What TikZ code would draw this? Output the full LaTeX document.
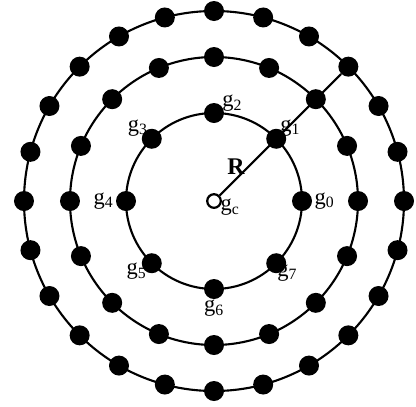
\documentclass[tikz,border=0pt]{standalone}
\usepackage{fontspec}
\setmainfont{Liberation Serif}
\usetikzlibrary{positioning, calc}
\tikzset{
	blackdot/.style={circle, fill=black, inner sep=0pt, minimum size=0.5cm}
}
\tikzset{
	ringline/.style={line width=1.5pt}
}
\tikzset{
	glabel/.style={font=\fontsize{16}{18}\selectfont, inner sep=0.5pt}
}
\newcommand{\gsub}[1]{g\textsubscript{#1}}

\begin{document}
\begin{tikzpicture}
      \useasboundingbox (-5.35,-5.125) rectangle (5.05,5.025);
      \draw[ringline] (0,0) circle (2.2);
      \draw[ringline] (0,0) circle (3.6);
      \draw[ringline] (0,0) circle (4.75);
      % grid points on the three rings
      \foreach \k in {0,...,7} \node[blackdot] (g\k) at (\k*45:2.2) {};
      \foreach \k in {0,...,15} \node[blackdot] (m\k) at (\k*22.5:3.6) {};
      \foreach \k in {0,...,23} \node[blackdot] (o\k) at (\k*15:4.75) {};
      \node[circle, draw, line width=1.6pt, fill=white, inner sep=0pt, minimum size=0.34cm] (gc) at (0,0) {};
      \draw[ringline] (gc) -- (o3);
      \node[font=\fontsize{17}{19}\selectfont\bfseries] (lblR) at (0.55,0.85) {R};
      \node[glabel, right=1pt of g0] (l0) {\gsub{0}};
      \node[glabel, above right=-4pt and -3pt of g1] (l1) {\gsub{1}};
      \node[glabel, above right=-5pt and 0pt of g2] (l2) {\gsub{2}};
      \node[glabel, above left=-4pt and -3pt of g3] (l3) {\gsub{3}};
      \node[glabel, left=1pt of g4] (l4) {\gsub{4}};
      \node[glabel, below left=-6pt and -2pt of g5] (l5) {\gsub{5}};
      \node[glabel, below=0pt of g6] (l6) {\gsub{6}};
      \node[glabel, below right=-5pt and -5pt of g7] (l7) {\gsub{7}};
      \node[glabel, below right=-6pt and 0pt of gc] (lc) {\gsub{c}};
\end{tikzpicture}
\end{document}
